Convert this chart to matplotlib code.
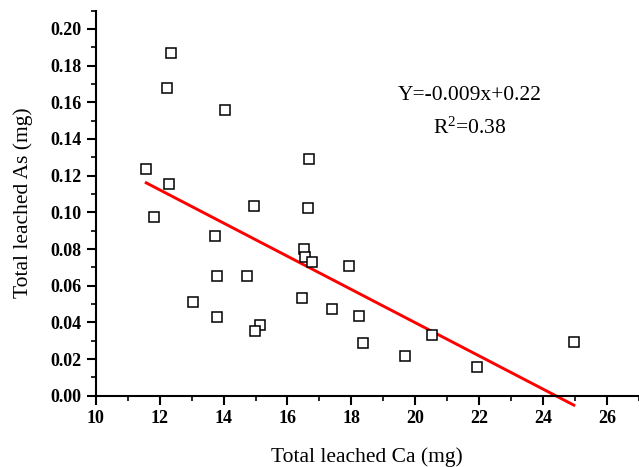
import matplotlib
matplotlib.use("Agg")
import matplotlib.pyplot as plt
import numpy as np
from matplotlib.ticker import MultipleLocator, FormatStrFormatter

ca = [12.34, 12.23, 14.03, 16.68, 11.58, 12.28, 14.95, 16.63, 11.82, 13.73,
      16.53, 16.54, 16.76, 17.92, 13.78, 14.73, 13.04, 16.45, 17.38, 18.23,
      13.78, 15.15, 14.99, 18.35, 20.53, 19.68, 21.93, 24.96]
as_ = [0.187, 0.168, 0.156, 0.129, 0.1237, 0.1155, 0.1035, 0.1024, 0.0975, 0.0871,
       0.0802, 0.0755, 0.0729, 0.0706, 0.0655, 0.0653, 0.0511, 0.0531, 0.0473, 0.0435,
       0.0431, 0.0387, 0.0353, 0.0289, 0.0333, 0.0215, 0.0155, 0.0293]
slope = -0.00906
intercept = 0.221
eq_text = "Y=-0.009x+0.22"
r2_text = "R$^2$=0.38"

plt.rcParams['font.family'] = ['Liberation Serif', 'DejaVu Serif']
plt.rcParams['mathtext.fontset'] = 'custom'
plt.rcParams['mathtext.rm'] = 'Liberation Serif'
plt.rcParams['mathtext.it'] = 'Liberation Serif:italic'
plt.rcParams['mathtext.default'] = 'rm'

fig = plt.figure(figsize=(6.39, 4.67), dpi=100)
ax = fig.add_axes([0.1498, 0.1527, 0.8502, 0.8245])

ax.plot(ca, as_, linestyle='none', marker='s', markersize=7,
        markerfacecolor='white', markeredgecolor='black', markeredgewidth=1.1, zorder=3)

xl = np.array([min(ca), max(ca)])
ax.plot(xl, slope * xl + intercept, color='#ff0000', linewidth=2.1, clip_on=False, zorder=2)

ax.set_xlim(10, 27)
ax.set_ylim(0, 0.21)
ax.xaxis.set_major_locator(MultipleLocator(2))
ax.xaxis.set_minor_locator(MultipleLocator(1))
ax.yaxis.set_major_locator(MultipleLocator(0.02))
ax.yaxis.set_minor_locator(MultipleLocator(0.01))
ax.yaxis.set_major_formatter(FormatStrFormatter('%.2f'))

for s in ['top', 'right']:
    ax.spines[s].set_visible(False)
for s in ['left', 'bottom']:
    ax.spines[s].set_linewidth(1.5)

ax.tick_params(which='major', direction='out', length=6.5, width=1.5, labelsize=13)
ax.tick_params(which='minor', direction='out', length=3.6, width=1.2)
for lab in ax.get_xticklabels() + ax.get_yticklabels():
    lab.set_fontweight('bold')

ax.set_xlabel("Total leached Ca (mg)", fontsize=15.5, labelpad=15)
ax.set_ylabel("Total leached As (mg)", fontsize=15.5, labelpad=13)

fig.text(470 / 639, 1 - 95 / 467, eq_text, fontsize=15.5, ha='center', va='center')
fig.text(470 / 639, 1 - 128 / 467, r2_text, fontsize=15.5, ha='center', va='center')

fig.savefig("out.png", dpi=100)
